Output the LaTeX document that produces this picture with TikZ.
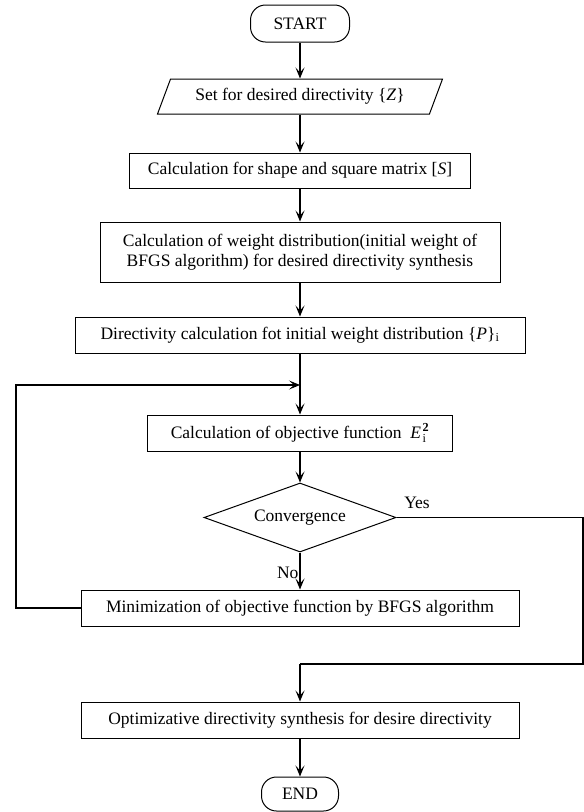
\documentclass[tikz,border=0pt]{standalone}
\usepackage{fontspec}
\setmainfont{Liberation Serif}
\usetikzlibrary{arrows.meta,shapes.geometric}

\begin{document}
\begin{tikzpicture}[x=1pt,y=-1pt,every node/.style={font=\fontsize{17.5}{20}\selectfont},
  procbox/.style={draw,line width=1pt,inner sep=0pt,minimum height=36pt},
  termbox/.style={draw,line width=1pt,inner sep=0pt,rounded corners=15pt},
  iobox/.style={draw,line width=1pt,inner sep=0pt,trapezium,trapezium left angle=51,trapezium right angle=129,trapezium stretches body=true},
  decbox/.style={draw,line width=1pt,inner sep=0pt,diamond,aspect=2.8},
  arr/.style={line width=1.1pt,-{Stealth[length=11pt,width=9pt,inset=5pt]}},
  lnk/.style={line width=1.1pt}]
\useasboundingbox (0,0) rectangle (584,812);
% flow chart boxes
\node[termbox,minimum width=99pt,minimum height=37pt] (start) at (300,23.5) {START};
\node[iobox,minimum width=285pt,minimum height=35pt] (setz) at (300,96.5) {Set for desired directivity \{\textit{Z}\}};
\node[procbox,minimum width=341pt,minimum height=35pt] (shape) at (300,170.5) {Calculation for shape and square matrix [\textit{S}]};
\node[procbox,minimum width=400pt,minimum height=60pt,align=center] (weight) at (300,252) {Calculation of weight distribution(initial weight of\\BFGS algorithm) for desired directivity synthesis};
\node[procbox,minimum width=450pt] (direc) at (300,335) {Directivity calculation fot initial weight distribution \{\textit{P}\}$_{\mathrm{i}}$};
\node[procbox,minimum width=305pt] (objf) at (300,433) {Calculation of objective function \ \textit{E}\kern1.5pt$^{\mathbf{2}}_{\mathrm{i}}$};
\node[decbox,minimum width=192pt,minimum height=69pt] (conv) at (300,517.5) {Convergence};
\node[procbox,minimum width=438pt] (minim) at (300,608) {Minimization of objective function by BFGS algorithm};
\node[procbox,minimum width=438pt] (optim) at (300,720) {Optimizative directivity synthesis for desire directivity};
\node[termbox,minimum width=77pt,minimum height=34pt] (end) at (300,794) {END};
% join points
\coordinate (loop) at (300,385);
\coordinate (lpl) at (16,385);
\coordinate (lpb) at (16,608);
\coordinate (yr) at (583,517.5);
\coordinate (yb) at (583,664);
\coordinate (ym) at (300,664);
% connectors
\draw[arr] (start) -- (setz);
\draw[arr] (setz) -- (shape);
\draw[arr] (shape) -- (weight);
\draw[arr] (weight) -- (direc);
\draw[arr] (direc) -- (objf);
\draw[arr] (objf) -- (conv);
\draw[arr] (conv) -- node[left,pos=0.55,inner sep=1pt] {No} (minim);
\draw[arr] (minim.west) -- (lpb) -- (lpl) -- (loop);
\draw[lnk] (conv.east) -- (yr) -- (yb) -- (ym);
\draw[arr] (ym) -- (optim);
\draw[arr] (optim) -- (end);
\node (yes) at (417,503) {Yes};
\end{tikzpicture}
\end{document}
